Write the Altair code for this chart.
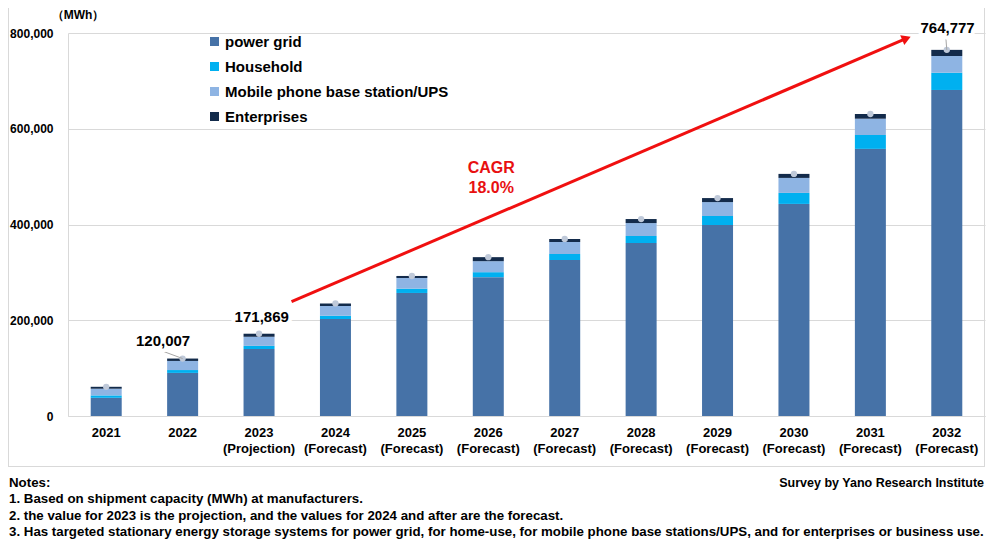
import altair as alt
import pandas as pd

# ---------------- data ----------------
years = ["2021", "2022", "2023|(Projection)", "2024|(Forecast)", "2025|(Forecast)",
         "2026|(Forecast)", "2027|(Forecast)", "2028|(Forecast)", "2029|(Forecast)",
         "2030|(Forecast)", "2031|(Forecast)", "2032|(Forecast)"]
segments = ["power grid", "Household", "Mobile phone base station/UPS", "Enterprises"]
power_grid = [38000, 90000, 140000, 202600, 257000, 290000, 326000, 361400, 399000, 443000, 558000, 681000]
household = [5000, 6000, 6500, 7000, 9000, 10400, 12500, 14600, 18800, 23000, 29000, 36000]
mobile_ups = [14000, 19000, 19000, 20000, 22300, 23000, 25000, 27000, 29000, 31300, 34000, 35000]
enterprises = [4000, 5007, 6369, 5600, 4200, 8400, 6300, 8400, 8400, 8400, 9800, 12777]
colors = ["#4672A7", "#00B0F0", "#8EB4E3", "#132B4B"]
y_ticks = [0, 200000, 400000, 600000, 800000]

# labelled totals (label position in category-index units / MWh, leader start)
label_texts = ["120,007", "171,869", "764,777"]
label_u = [1.244, 2.535, 11.51]
label_v = [156660, 207420, 810450]
leader_u = [1.233, 11.487]
leader_v = [135770, 791030]
leader_end_u = [1.5, 11.5]
leader_end_v = [120007, 764777]

# CAGR arrow
arrow_u = [2.925, 10.972]
arrow_v = [238750, 788700]
arrowhead_u = [10.972]
arrowhead_v = [788700]
cagr_lines = ["CAGR", "18.0%"]
cagr_u = [5.538, 5.538]
cagr_v = [517000, 476250]

unit_label = "（MWh）"
notes = ["Notes:",
         "1. Based on shipment capacity (MWh) at manufacturers.",
         "2. the value for 2023 is the projection, and the values for 2024 and after are the forecast.",
         "3. Has targeted stationary energy storage systems for power grid, for home-use, for mobile phone base stations/UPS, and for enterprises or business use."]
source = "Survey by Yano Research Institute"

# ---------------- tables ----------------
rows = []
for i, y in enumerate(years):
    for k, vals in enumerate([power_grid, household, mobile_ups, enterprises]):
        rows.append({"year": y, "segment": segments[k], "value": vals[i], "order": k})
df = pd.DataFrame(rows)
totals = pd.DataFrame({"year": years,
                       "total": [a + b + c + d for a, b, c, d in zip(power_grid, household, mobile_ups, enterprises)]})
labels_df = pd.DataFrame({"t": label_texts, "u": label_u, "v": label_v})
leaders_df = pd.DataFrame({"u": leader_u, "v": leader_v, "u2": leader_end_u, "v2": leader_end_v})
arrow_df = pd.DataFrame({"u": arrow_u, "v": arrow_v})
head_df = pd.DataFrame({"u": arrowhead_u, "v": arrowhead_v})
cagr_df = pd.DataFrame({"t": cagr_lines, "u": cagr_u, "v": cagr_v})

FONT = "Liberation Sans"
W, H = 917, 383
yscale = alt.Scale(domain=[0, 800000], nice=False)
uscale = alt.Scale(domain=[0, 12], nice=False, zero=False)
yaxis = alt.Axis(values=y_ticks, format=",d", title=None,
                 labelFont=FONT, labelFontWeight="bold", labelFontSize=12,
                 labelColor="#000000", labelPadding=15, ticks=False,
                 gridColor="#D9D9D9", domainColor="#D9D9D9")


def Y(field):
    return alt.Y(field, scale=yscale, axis=yaxis)


bars = alt.Chart(df).mark_bar(size=31).encode(
    x=alt.X("year:N", sort=years,
            scale=alt.Scale(paddingInner=0.594, paddingOuter=0.297),
            axis=alt.Axis(title=None, labelExpr="split(datum.label, '|')",
                          labelAngle=0, labelFont=FONT, labelFontWeight="bold",
                          labelFontSize=13, labelLineHeight=16, labelColor="#000000",
                          labelPadding=10, ticks=False, domainColor="#D9D9D9")),
    y=alt.Y("value:Q", stack="zero", scale=yscale, axis=yaxis),
    color=alt.Color("segment:N", scale=alt.Scale(domain=segments, range=colors),
                    legend=alt.Legend(title=None, orient="none", legendX=139, legendY=1,
                                      symbolType="square", symbolSize=81, symbolStrokeWidth=0,
                                      labelFont=FONT, labelFontSize=15, labelFontWeight="bold",
                                      labelColor="#000000", rowPadding=9, labelOffset=3,
                                      labelLimit=0, padding=0)),
    order=alt.Order("order:Q", sort="ascending"),
)

dots = alt.Chart(totals).mark_point(filled=True, size=40, color="#BFC9D9", opacity=1).encode(
    x=alt.X("year:N", sort=years), y=Y("total:Q"))

base = alt.layer(bars, dots)

leaders = alt.Chart(leaders_df).mark_rule(color="#A6A6A6", strokeWidth=1).encode(
    x=alt.X("u:Q", scale=uscale, axis=None), y=Y("v:Q"),
    x2="u2:Q", y2="v2:Q")

halo = alt.Chart(labels_df).mark_text(font=FONT, fontSize=15, fontWeight="bold",
                                      color="white", stroke="white", strokeWidth=8,
                                      strokeJoin="round").encode(
    x=alt.X("u:Q", scale=uscale, axis=None), y=Y("v:Q"), text="t:N")
labels = alt.Chart(labels_df).mark_text(font=FONT, fontSize=15, fontWeight="bold",
                                        color="#000000").encode(
    x=alt.X("u:Q", scale=uscale, axis=None), y=Y("v:Q"), text="t:N")

arrow = alt.Chart(arrow_df).mark_line(color="#F01010", strokeWidth=3).encode(
    x=alt.X("u:Q", scale=uscale, axis=None), y=Y("v:Q"))
head = alt.Chart(head_df).mark_point(shape="triangle-up", filled=True, size=110,
                                     color="#F01010", opacity=1, angle=67).encode(
    x=alt.X("u:Q", scale=uscale, axis=None), y=Y("v:Q"))
cagr = alt.Chart(cagr_df).mark_text(font=FONT, fontSize=16, fontWeight="bold",
                                    color="#E81010").encode(
    x=alt.X("u:Q", scale=uscale, axis=None), y=Y("v:Q"), text="t:N")

unit = alt.Chart(pd.DataFrame({"t": [unit_label]})).mark_text(
    font=FONT, fontSize=12, fontWeight="bold", align="center", baseline="middle",
    color="#000000").encode(x=alt.value(10), y=alt.value(-18), text="t:N")

# notes and frame
note_layers = []
note_y = [450, 466, 483, 499]
for line, yy in zip(notes, note_y):
    note_layers.append(alt.Chart(pd.DataFrame({"t": [line]})).mark_text(
        font=FONT, fontSize=13.3, fontWeight="bold", align="left", baseline="middle",
        color="#000000").encode(x=alt.value(-59), y=alt.value(yy), text="t:N"))
src = alt.Chart(pd.DataFrame({"t": [source]})).mark_text(
    font=FONT, fontSize=12.5, fontWeight="bold", align="right", baseline="middle",
    color="#000000").encode(x=alt.value(916), y=alt.value(450), text="t:N")

frame_l = alt.Chart(pd.DataFrame({"a": [0]})).mark_rule(color="#D9D9D9").encode(
    x=alt.value(-59.5), y=alt.value(-25), y2=alt.value(433))
frame_b = alt.Chart(pd.DataFrame({"a": [0]})).mark_rule(color="#D9D9D9").encode(
    x=alt.value(-60), x2=alt.value(917), y=alt.value(433.5))
frame_r = alt.Chart(pd.DataFrame({"a": [0]})).mark_rule(color="#D9D9D9").encode(
    x=alt.value(916.5), y=alt.value(-25), y2=alt.value(433))

chart = alt.layer(base, leaders, halo, labels, arrow, head, cagr, unit,
                  frame_l, frame_b, frame_r, src, *note_layers).resolve_scale(
    x="independent").properties(
    width=W, height=H,
    autosize=alt.AutoSizeParams(type="none"),
    padding={"left": 60, "top": 25, "right": 1, "bottom": 124},
).configure_view(strokeWidth=0).configure_axis(gridWidth=1)

chart.save("out.html", embed_options={"renderer": "svg", "actions": False})
